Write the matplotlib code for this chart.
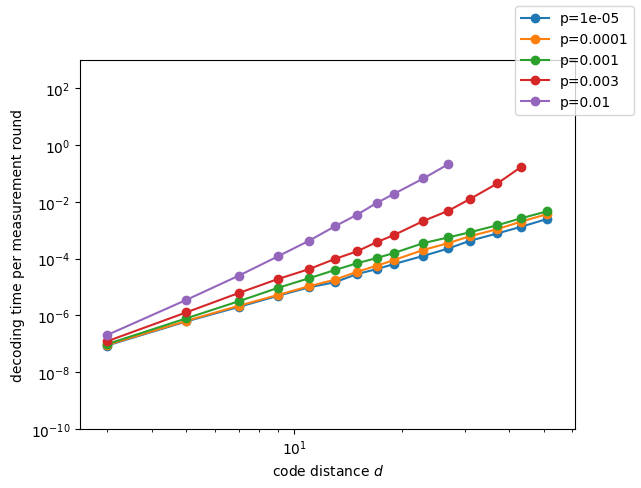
import matplotlib
matplotlib.use("Agg")
import matplotlib.pyplot as plt

distances = [3, 5, 7, 9, 11, 13, 15, 17, 19, 23, 27, 31, 37, 43, 51]
error_rates = [1e-05, 0.0001, 0.001, 0.003, 0.01]

time_p1e5 = [8.71e-8, 6.17e-7, 2.00e-6, 4.90e-6, 9.77e-6, 1.48e-5, 2.88e-5, 4.27e-5,
             6.46e-5, 1.26e-4, 2.29e-4, 4.27e-4, 7.76e-4, 1.32e-3, 2.51e-3]
time_p1e4 = [9.12e-8, 6.46e-7, 2.19e-6, 5.25e-6, 1.07e-5, 1.82e-5, 3.47e-5, 5.62e-5,
             8.91e-5, 2.04e-4, 3.55e-4, 6.17e-4, 1.10e-3, 2.00e-3, 3.72e-3]
time_p1e3 = [9.77e-8, 7.94e-7, 3.16e-6, 9.33e-6, 2.04e-5, 3.98e-5, 6.92e-5, 1.05e-4,
             1.58e-4, 3.55e-4, 5.62e-4, 8.51e-4, 1.51e-3, 2.63e-3, 4.68e-3]
time_p3e3 = [1.23e-7, 1.29e-6, 6.17e-6, 1.91e-5, 4.27e-5, 9.77e-5, 1.82e-4, 3.80e-4,
             6.76e-4, 2.14e-3, 4.90e-3, 1.26e-2, 4.47e-2, 1.66e-1]
time_p1e2 = [2.04e-7, 3.55e-6, 2.51e-5, 1.20e-4, 4.27e-4, 1.38e-3, 3.55e-3, 9.12e-3,
             1.91e-2, 6.76e-2, 2.14e-1]

series = [time_p1e5, time_p1e4, time_p1e3, time_p3e3, time_p1e2]

fig = plt.figure(figsize=(6.41, 4.89), dpi=100)
ax = fig.add_axes([80/641, 1 - 430/489, 495/641, 369/489])

for p, times in zip(error_rates, series):
    ax.plot(distances[:len(times)], times, marker='o', label=f"p={p}")

ax.set_xscale('log')
ax.set_yscale('log')
ax.set_xlim(2.52, 61)
ax.set_ylim(1e-10, 1e3)
ax.set_xlabel('code distance $d$')
ax.set_ylabel('decoding time per measurement round')
fig.legend(loc='upper right')

fig.savefig('out.png', dpi=100)
